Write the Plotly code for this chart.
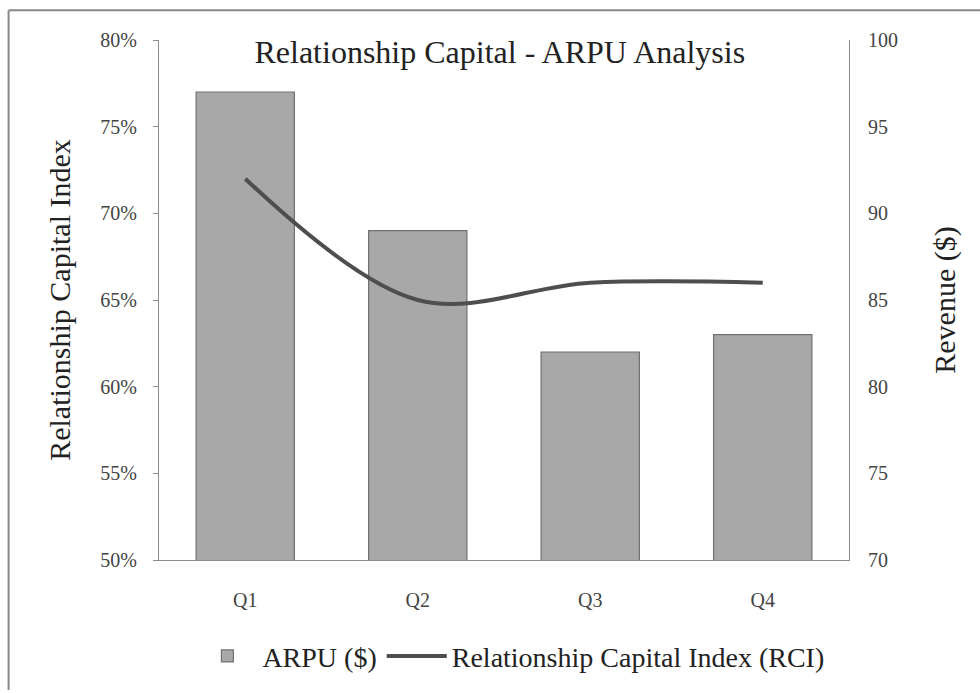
import plotly.graph_objects as go

quarters = ["Q1", "Q2", "Q3", "Q4"]
arpu = [97, 89, 82, 83]
rci = [0.72, 0.65, 0.66, 0.66]

FONT = "Liberation Serif, Times New Roman, serif"

fig = go.Figure()
fig.add_trace(go.Bar(
    x=quarters, y=arpu, name="ARPU ($)", yaxis="y",
    marker=dict(color="#a8a8a8", line=dict(color="#707070", width=1.2)),
    width=0.57,
))
fig.add_trace(go.Scatter(
    x=quarters, y=rci, name="Relationship Capital Index (RCI)", mode="lines",
    yaxis="y2",
    line=dict(color="#4e4e4e", width=4, shape="spline", smoothing=1.0),
))

fig.update_layout(
    width=980, height=693,
    margin=dict(l=159, r=131, t=40, b=130),
    paper_bgcolor="white", plot_bgcolor="white",
    font=dict(family=FONT, color="#333333"),
    title=dict(text="Relationship Capital - ARPU Analysis", x=0.51, xanchor="center",
               y=0.925, yanchor="middle", font=dict(family=FONT, size=32, color="#222222")),
    xaxis=dict(showline=True, linecolor="#8c8c8c", linewidth=1, ticks="",
               ticklabelstandoff=22,
               tickfont=dict(family=FONT, size=20, color="#444444"), showgrid=False),
    yaxis=dict(range=[70, 100], dtick=5, side="right", showgrid=False,
               showline=True, linecolor="#8c8c8c", linewidth=1, ticks="",
               ticklabelstandoff=14,
               tickfont=dict(family=FONT, size=20, color="#444444"),
               title=dict(text="Revenue ($)", font=dict(family=FONT, size=30, color="#222222"),
                          standoff=36)),
    yaxis2=dict(range=[0.5, 0.8], dtick=0.05, tickformat=".0%", showgrid=False,
                overlaying="y", side="left",
                showline=True, linecolor="#8c8c8c", linewidth=1, ticks="outside",
                ticklen=5, tickcolor="#8c8c8c", ticklabelstandoff=12,
                tickfont=dict(family=FONT, size=20, color="#444444"),
                title=dict(text="Relationship Capital Index",
                           font=dict(family=FONT, size=30, color="#222222"), standoff=20)),
    legend=dict(orientation="h", x=0.51, xanchor="center", y=-0.185, yanchor="middle",
                font=dict(family=FONT, size=28, color="#222222"), traceorder="normal",
                itemwidth=60),
    bargap=0.43,
    shapes=[
        dict(type="line", xref="paper", yref="paper", x0=-0.218, x1=1.19, y0=1.057, y1=1.057,
             line=dict(color="#888888", width=2)),
        dict(type="line", xref="paper", yref="paper", x0=-0.218, x1=-0.218, y0=-0.25, y1=1.057,
             line=dict(color="#888888", width=2)),
    ],
)

fig.write_html("out.html")
